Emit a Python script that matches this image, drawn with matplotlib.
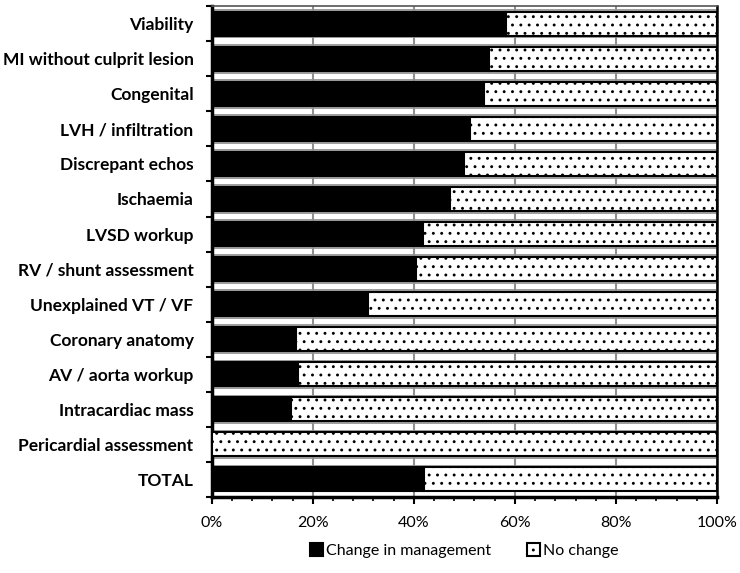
import numpy as np
import matplotlib
matplotlib.use('Agg')
from matplotlib import pyplot as plt
from matplotlib.ticker import FuncFormatter, MultipleLocator

plt.rcParams['font.family'] = ['Lato', 'DejaVu Sans']
plt.rcParams['hatch.linewidth'] = 0.9

categories = ['Viability', 'MI without culprit lesion', 'Congenital', 'LVH / infiltration',
              'Discrepant echos', 'Ischaemia', 'LVSD workup', 'RV / shunt assessment',
              'Unexplained VT / VF', 'Coronary anatomy', 'AV / aorta workup',
              'Intracardiac mass', 'Pericardial assessment', 'TOTAL']
change = [58.3, 54.9, 53.9, 51.1, 50.0, 47.2, 41.8, 40.5, 30.9, 16.7, 17.1, 15.7, 0.0, 42.0]
no_change = [100 - v for v in change]
xticks = [0, 20, 40, 60, 80, 100]

fig = plt.figure(figsize=[7.4, 5.73], dpi=100)
ax = fig.add_axes([0.286, 0.133, 0.683, 0.856])

y = np.arange(len(categories))[::-1]

# top faces of the 3d bars (light strips between bars)
ax.barh(y + 0.5, [100] * len(y), height=0.22, color='white', edgecolor='#8c8c8c', linewidth=1.2, zorder=1)

ax.barh(y, change, height=0.68, color='black', edgecolor='black', linewidth=1.5, zorder=3,
        label='Change in management')
ax.barh(y, no_change, left=change, height=0.68, color='white', edgecolor='black', linewidth=1.5,
        hatch='..', zorder=3, label='No change')

for x in xticks[1:-1]:
    ax.axvline(x, color='#909090', lw=1.5, zorder=2)

ax.set_xlim(0, 100)
ax.set_ylim(-0.5, len(categories) - 0.5)
ax.set_xticks(xticks)
ax.xaxis.set_major_formatter(FuncFormatter(lambda v, p: f'{v:.0f}%'))
ax.xaxis.set_minor_locator(MultipleLocator(4))
ax.set_yticks(y)
ax.set_yticklabels(categories, fontsize=12.5, fontweight='bold')
ax.set_yticks(np.arange(-0.5, len(categories), 1), minor=True)
ax.tick_params(axis='y', which='major', length=0, pad=13)
ax.tick_params(axis='y', which='minor', length=4, width=1.5, direction='out')
ax.tick_params(axis='x', which='major', length=5, width=1.5, labelsize=11.5, pad=9)
ax.tick_params(axis='x', which='minor', length=3, width=1.2)

for s in ['left', 'bottom']:
    ax.spines[s].set_linewidth(2.5)
ax.spines['right'].set_linewidth(1.8)
ax.spines['top'].set_linewidth(1.2)
ax.spines['top'].set_color('#555555')

ax.legend(loc='upper center', bbox_to_anchor=(0.5, -0.065), ncol=2, frameon=False, fontsize=11.5,
          handlelength=0.8, handleheight=0.9, handletextpad=0.2, columnspacing=2.2)

plt.savefig('out.png', dpi=100)
